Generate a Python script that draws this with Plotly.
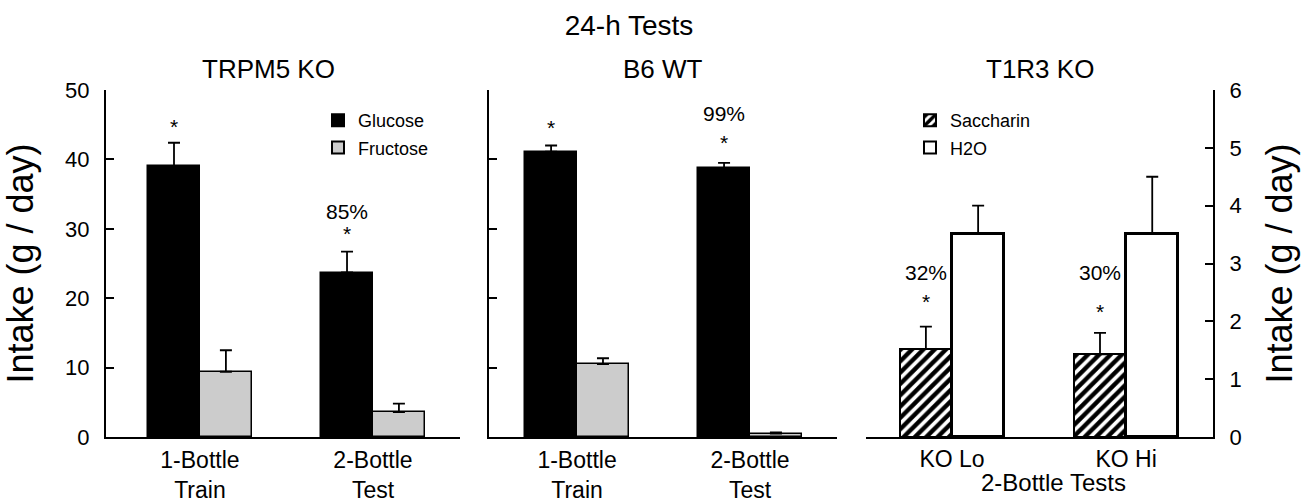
import plotly.graph_objects as go

W, H = 1316, 502
FONT = "Liberation Sans, Arial, sans-serif"

# ---------------- data ----------------
group_pos = [0, 1]
trpm5_labels = ["1-Bottle<br>Train", "2-Bottle<br>Test"]
trpm5_glucose = [39.0, 23.7]
trpm5_glucose_sem = [3.4, 3.0]
trpm5_fructose = [9.4, 3.6]
trpm5_fructose_sem = [3.1, 1.2]

b6_labels = ["1-Bottle<br>Train", "2-Bottle<br>Test"]
b6_glucose = [41.1, 38.7]
b6_glucose_sem = [0.9, 0.8]
b6_fructose = [10.5, 0.5]
b6_fructose_sem = [0.85, 0.15]

t1r3_labels = ["KO Lo", "KO Hi"]
t1r3_saccharin = [1.52, 1.43]
t1r3_saccharin_sem = [0.39, 0.37]
t1r3_water = [3.51, 3.51]
t1r3_water_sem = [0.49, 0.99]

trpm5_pct = ["", "85%"]
b6_pct = ["", "99%"]
t1r3_pct = ["32%", "30%"]

left_ticks = [0, 10, 20, 30, 40, 50]
right_ticks = [0, 1, 2, 3, 4, 5, 6]

# ---------------- figure ----------------
fig = go.Figure()

BW = 0.30


def bar(name, xa, ya, vals, sem, color, lw, offset, legend=None, show=False,
        pattern=None, group=None):
    marker = dict(color=color, line=dict(color="black", width=lw))
    if pattern:
        marker["pattern"] = pattern
    fig.add_trace(go.Bar(
        name=name, x=group_pos, y=vals, xaxis=xa, yaxis=ya,
        width=BW, offset=offset, marker=marker,
        error_y=dict(type="data", symmetric=False, array=sem,
                     arrayminus=[0] * len(sem), color="black",
                     thickness=1.8, width=6),
        showlegend=show, legend=legend, legendgroup=group,
    ))


bar("Glucose", "x", "y", trpm5_glucose, trpm5_glucose_sem, "black", 1.5, -BW,
    legend="legend", show=True, group="g")
bar("Fructose", "x", "y", trpm5_fructose, trpm5_fructose_sem, "#cccccc", 1.5, 0,
    legend="legend", show=True, group="f")
bar("Glucose", "x2", "y2", b6_glucose, b6_glucose_sem, "black", 1.5, -BW, group="g")
bar("Fructose", "x2", "y2", b6_fructose, b6_fructose_sem, "#cccccc", 1.5, 0, group="f")
bar("Saccharin", "x3", "y3", t1r3_saccharin, t1r3_saccharin_sem, "white", 2, -BW,
    legend="legend2", show=True, group="s",
    pattern=dict(shape="/", fgcolor="black", bgcolor="white", size=8, solidity=0.55))
bar("H2O", "x3", "y3", t1r3_water, t1r3_water_sem, "white", 3, 0,
    legend="legend2", show=True, group="w")

# ---------------- axes ----------------
y_dom = [1 - 437 / H, 1 - 90 / H]
common_x = dict(showline=True, linecolor="black", linewidth=2, ticks="",
                showgrid=False, zeroline=False, tickvals=group_pos,
                automargin=False,
                tickfont=dict(size=23, color="black", family=FONT))
common_y = dict(showline=True, linecolor="black", linewidth=2, ticks="inside",
                ticklen=8, tickwidth=2, tickcolor="black", showgrid=False,
                zeroline=False, automargin=False,
                tickfont=dict(size=22, color="black", family=FONT))

fig.update_layout(
    template="none",
    xaxis=dict(domain=[106 / W, 460 / W], range=[-0.543, 1.503], anchor="y",
               ticktext=trpm5_labels, ticklabelstandoff=1, **common_x),
    xaxis2=dict(domain=[489 / W, 837 / W], range=[-0.509, 1.503], anchor="y2",
                ticktext=b6_labels, ticklabelstandoff=1, **common_x),
    xaxis3=dict(domain=[866 / W, 1213 / W], range=[-0.494, 1.499], anchor="y3",
                ticktext=t1r3_labels, ticklabelstandoff=0, **common_x),
    yaxis=dict(domain=y_dom, range=[0, 50], anchor="x", tickvals=left_ticks,
               ticklabelstandoff=10,
               title=dict(text="Intake (g / day)", standoff=26,
                          font=dict(size=36, color="black", family=FONT)),
               **common_y),
    yaxis2=dict(domain=y_dom, range=[0, 50], anchor="x2", tickvals=left_ticks,
                showticklabels=False, **common_y),
    yaxis3=dict(domain=y_dom, range=[0, 6], anchor="x3", side="right",
                tickvals=right_ticks, ticklabelstandoff=10,
                title=dict(text="Intake (g / day)", standoff=26,
                           font=dict(size=36, color="black", family=FONT)),
                **common_y),
)

# ---------------- annotations ----------------
ann = []


def txt(text, x, y, size, xref="paper", yref="paper", yanchor="middle", yshift=0):
    ann.append(dict(text=text, x=x, y=y, xref=xref, yref=yref, showarrow=False,
                    xanchor="center", yanchor=yanchor, yshift=yshift,
                    font=dict(size=size, color="black", family=FONT)))


txt("TRPM5 KO", 268 / W, 1 - 69 / H, 26)
txt("B6 WT", 663 / W, 1 - 69 / H, 26)
txt("T1R3 KO", 1040 / W, 1 - 69 / H, 26)
txt("2-Bottle Tests", 1053 / W, 1 - 482 / H, 24)

# significance stars (above glucose / saccharin bars) and percent labels
star_shift = {"x": [3, 5], "x2": [5, 7], "x3": [12, 8]}
pct_shift = {"x": [0, 40], "x2": [0, 49], "x3": [54, 60]}
panels = [("x", "y", trpm5_glucose, trpm5_glucose_sem, trpm5_pct),
          ("x2", "y2", b6_glucose, b6_glucose_sem, b6_pct),
          ("x3", "y3", t1r3_saccharin, t1r3_saccharin_sem, t1r3_pct)]
for xa, ya, vals, sem, pct in panels:
    for i, g in enumerate(group_pos):
        top = vals[i] + sem[i]
        cx = g - BW / 2
        txt("*", cx, top, 21, xref=xa, yref=ya, yanchor="bottom",
            yshift=star_shift[xa][i])
        if pct[i]:
            txt(pct[i], cx, top, 21, xref=xa, yref=ya, yanchor="middle",
                yshift=pct_shift[xa][i])

fig.update_layout(
    width=W, height=H, autosize=False,
    margin=dict(l=0, r=0, t=0, b=0, pad=0),
    paper_bgcolor="white", plot_bgcolor="white",
    font=dict(family=FONT, color="black"),
    title=dict(text="24-h Tests", x=629 / W, xanchor="center",
               y=1 - 25 / H, yanchor="middle",
               font=dict(size=28, color="black", family=FONT)),
    annotations=ann,
    legend=dict(x=318 / W, y=1 - 102 / H, xanchor="left", yanchor="top",
                bgcolor="rgba(0,0,0,0)", font=dict(size=18, color="black"),
                tracegroupgap=1, itemsizing="constant"),
    legend2=dict(x=910 / W, y=1 - 102 / H, xanchor="left", yanchor="top",
                 bgcolor="rgba(0,0,0,0)", font=dict(size=18, color="black"),
                 tracegroupgap=1, itemsizing="constant"),
    bargap=0,
)

fig.write_html("out.html", config={"displayModeBar": False},
               post_script="document.body.style.margin='0';"
                           "document.body.style.overflow='hidden';")
